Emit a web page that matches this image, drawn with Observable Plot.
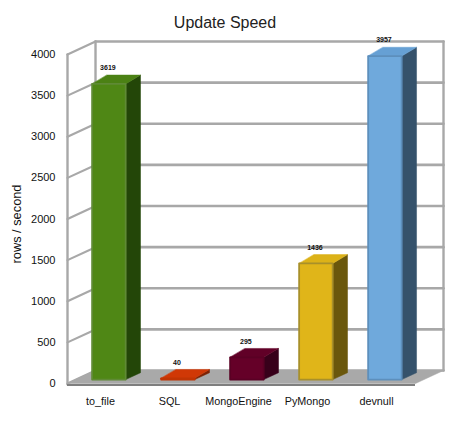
<!DOCTYPE html>
<html><head><meta charset="utf-8">
<script src="https://cdn.jsdelivr.net/npm/d3@7"></script>
<script src="https://cdn.jsdelivr.net/npm/@observablehq/plot@0.6"></script>
<style>
html,body{margin:0;padding:0;background:#fff}
#title{height:36px;box-sizing:border-box;padding-top:13px;padding-right:9px;text-align:center;font:16px/20px "Liberation Sans",sans-serif;color:#222}
svg{display:block;overflow:visible}
</style></head><body>
<div id="title">Update Speed</div>
<div id="chart"></div>
<script>
const categories = ["to_file","SQL","MongoEngine","PyMongo","devnull"];
const speeds = [3619,40,295,1436,3957];
const frontColors = ["#4f8715","#d33a06","#650028","#e0b519","#6fa9dc"];
const topColors = ["#4b8114","#d03806","#610027","#dcb218","#66a0d4"];
const sideColors = ["#234608","#7c2204","#38001a","#6a570c","#35526b"];
const edgeColors = ["#5f8a35","#c03404","#5a0024","#a8902a","#5d8fbc"];
const yTicks = [0,500,1000,1500,2000,2500,3000,3500,4000];

// depth of the 3D box, in data units
const depthX = 0.406, depthY = 158;
const barHalf = 0.243, barFront = 0.3, barBack = 0.83, bevel = 24;
const xMin = -0.478, xMax = 4.565, yMax = 4000;
const pt = (i, v, z, id, color) => ({x: i + z*depthX, y: v + z*depthY, id, color});
const poly = (id, color, pts) => pts.map(([i,v,z]) => pt(i,v,z,id,color));

const floor = poly("floor","#a9a9a9",[[xMin,0,0],[xMax,0,0],[xMax,0,1],[xMin,0,1]]);
const gridBack = yTicks.flatMap(v => [pt(xMin,v,1,"b"+v),pt(xMax,v,1,"b"+v)]);
const gridSide = yTicks.flatMap(v => [pt(xMin,v,0,"s"+v),pt(xMin,v,1,"s"+v)]);
const wallEdges = [
  pt(xMin,-10,0,"l"),pt(xMin,yMax,0,"l"),
  pt(xMin,0,1,"m"),pt(xMin,yMax,1,"m"),
  pt(xMax,0,1,"r"),pt(xMax,yMax,1,"r")
];
const fronts=[],tops=[],sides=[];
categories.forEach((c,i)=>{
  const v=speeds[i], f=v-bevel, a=i-barHalf, b=i+barHalf;
  fronts.push(...poly("f"+i,frontColors[i],[[a,0,barFront],[b,0,barFront],[b,f,barFront],[a,f,barFront]]).map(p=>({...p,edge:edgeColors[i]})));
  tops.push(...poly("t"+i,topColors[i],[[a,f,barFront],[b,f,barFront],[b,v,barBack],[a,v,barBack]]));
  sides.push(...poly("s"+i,sideColors[i],[[b,0,barFront],[b,0,barBack],[b,v,barBack],[b,f,barFront]]));
});
const labels = categories.map((c,i)=>({x:i+barFront*depthX,y:speeds[i]+barFront*depthY,t:String(speeds[i])}));
const fill3d = (data) => Plot.line(data,{x:"x",y:"y",z:"id",fill:"color",stroke:"color",strokeWidth:0.5,curve:"linear-closed"});

const plot = Plot.plot({
  width:459,height:386,
  marginLeft:67,marginRight:44,marginTop:18,marginBottom:39,
  x:{domain:[xMin,xMax],axis:null},
  y:{domain:[0,yMax],axis:null},
  style:{fontFamily:'"Liberation Sans",sans-serif',background:"transparent",color:"#111"},
  marks:[
    Plot.line(gridBack,{x:"x",y:"y",z:"id",stroke:"#a8a8a8",strokeWidth:2.6}),
    Plot.line(gridSide,{x:"x",y:"y",z:"id",stroke:"#a8a8a8",strokeWidth:2.2}),
    Plot.line(wallEdges,{x:"x",y:"y",z:"id",stroke:"#a8a8a8",strokeWidth:2.4}),
    fill3d(floor),
    Plot.ruleY([-18],{x1:xMin,x2:xMax,stroke:"#7f7f7f",strokeWidth:2}),
    fill3d(sides),
    fill3d(tops),
    Plot.line(fronts,{x:"x",y:"y",z:"id",fill:"color",stroke:"edge",strokeWidth:1.8,curve:"linear-closed"}),
    Plot.text(labels,{x:"x",y:"y",text:"t",dx:-1,dy:-14,fontSize:7,fontWeight:"bold",fill:"#111"}),
    Plot.axisY({ticks:yTicks,anchor:"left",tickSize:0,tickPadding:12,fontSize:11,tickFormat:d=>String(d),label:"rows / second",labelAnchor:"center",labelArrow:"none",labelOffset:56}),
    Plot.axisX({ticks:[0,1,2,3,4],anchor:"bottom",tickSize:0,tickPadding:14,fontSize:10.8,label:null,tickFormat:i=>categories[i]})
  ]
});
plot.querySelectorAll("text").forEach(t=>{
  if(t.textContent==="rows / second"){
    t.setAttribute("font-size","12.8");
    t.setAttribute("dx","-5");
  }
});
document.getElementById("chart").appendChild(plot);
</script>
</body></html>
